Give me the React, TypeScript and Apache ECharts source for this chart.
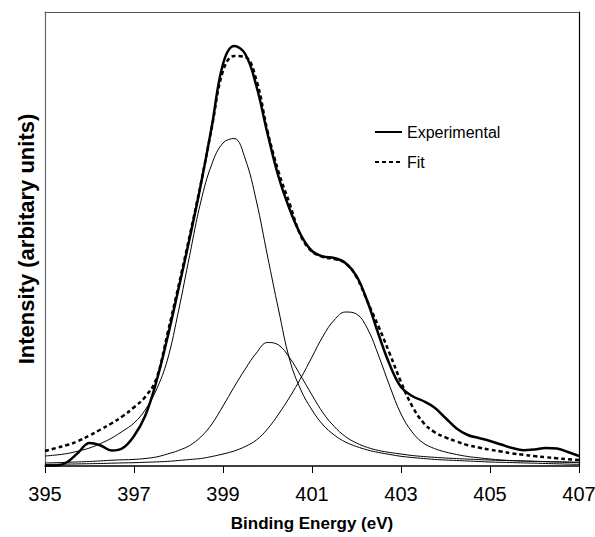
import React, { useEffect, useRef } from "react";
import * as echarts from "echarts";

const energy = [
  395, 395.25, 395.5, 395.75, 396, 396.25, 396.5, 396.75, 397, 397.25, 397.5, 397.75,
  398, 398.25, 398.5, 398.75, 399, 399.25, 399.5, 399.75, 400, 400.25, 400.5, 400.75,
  401, 401.25, 401.5, 401.75, 402, 402.25, 402.5, 402.75, 403, 403.25, 403.5, 403.75,
  404, 404.25, 404.5, 404.75, 405, 405.25, 405.5, 405.75, 406, 406.25, 406.5, 406.75, 407,
];

const experimental = [
  0.5, 0.5, 4, 13.5, 23, 20.5, 15.5, 18, 30, 50, 84, 128,
  177, 227.5, 281, 340, 402, 420, 412, 380, 332.5, 289, 256.5, 231,
  215, 209.5, 208, 203, 190, 164, 131, 101, 79, 70, 65, 58.5,
  48, 37.5, 31, 28, 25, 21.5, 18, 15.8, 16.5, 18, 17.5, 14, 10,
];

const fit = [
  15, 18, 21, 25, 30.5, 36.5, 42.7, 50, 58.7, 69, 87, 132,
  180, 230, 282, 339, 395, 410, 409, 386, 335, 294, 262, 230,
  214.5, 209, 207, 203, 189, 164, 139, 112, 84, 60, 43.5, 34,
  28.7, 24.5, 20.8, 18.4, 16.3, 14.5, 12.6, 11.2, 9.9, 8.8, 7.7, 6.8, 6,
];

const peak1 = [
  10, 11, 12.5, 15, 18, 22.5, 28, 35, 43, 56, 76, 106,
  155, 210.5, 264, 302, 323, 327.5, 307, 265, 210, 156, 106, 76,
  56, 41, 31, 24, 19.5, 16, 13.5, 11.5, 9.7, 8.5, 7.5, 6.6,
  6, 5.5, 5, 4.5, 4, 3.7, 3.4, 3.1, 2.8, 2.5, 2.2, 1.9, 1.6,
];

const peak2 = [
  3, 3.3, 3.7, 4.1, 4.5, 5.1, 5.8, 6.2, 6.6, 7.5, 9, 12,
  15.5, 20.5, 29, 42, 60, 79, 97, 113, 123.5, 121, 108, 90,
  71, 53, 39.5, 29.5, 23, 18.5, 15.5, 13.5, 12, 10.5, 9.5, 8.7,
  8, 7.4, 6.9, 6.4, 6, 5.6, 5.3, 5, 4.7, 4.4, 4.2, 4, 3.8,
];

const peak3 = [
  1.5, 1.7, 1.9, 2.1, 2.3, 2.5, 2.8, 3.1, 3.3, 3.7, 4.1, 4.6,
  5.5, 6.5, 7.5, 9.5, 12, 15, 19.5, 26, 37, 52, 69, 88,
  109, 130, 146, 154, 152, 137, 110, 79.5, 52, 34, 23, 17.5,
  14, 11.5, 9.5, 8.2, 7, 6, 5.4, 5, 4.6, 4.3, 4, 3.7, 3.3,
];

const xTicks = [395, 397, 399, 401, 403, 405, 407];
const legendNames = ["Experimental", "Fit"];
const xTitle = "Binding Energy (eV)";
const yTitle = "Intensity (arbitary units)";

const FONT = "'Liberation Sans', Arial, sans-serif";

const pairs = (ys: number[]) => energy.map((x, i) => [x, ys[i]]);

export default function App() {
  const ref = useRef<HTMLDivElement>(null);
  useEffect(() => {
    if (!ref.current) return;
    const chart = echarts.init(ref.current, undefined, { renderer: "svg" });
    const thin = (name: string, ys: number[]) => ({
      name,
      type: "line",
      data: pairs(ys),
      smooth: 0.4,
      symbol: "none",
      lineStyle: { color: "#000", width: 1 },
      z: 2,
    });
    chart.setOption({
      animation: false,
      backgroundColor: "#fff",
      grid: { left: 45, right: 16, top: 12, bottom: 71, outerBoundsMode: "none", containLabel: false },
      legend: {
        data: legendNames,
        orient: "vertical",
        left: 369,
        top: 119,
        itemWidth: 27,
        itemHeight: 14,
        itemGap: 14,
        itemStyle: { opacity: 0 },
        textStyle: { fontSize: 16, fontFamily: FONT, color: "#000" },
      },
      xAxis: [
        {
          type: "value",
          min: 395,
          max: 407,
          interval: 2,
          axisLine: { show: true, onZero: false, lineStyle: { color: "#000", width: 1.5 } },
          axisTick: { show: true, length: 7, lineStyle: { color: "#000" } },
          axisLabel: {
            fontSize: 20,
            fontFamily: FONT,
            color: "#000",
            margin: 18,
            customValues: xTicks,
          },
          splitLine: { show: false },
          name: xTitle,
          nameLocation: "middle",
          nameGap: 49,
          nameTextStyle: { fontSize: 17, fontWeight: "bold", fontFamily: FONT, color: "#000" },
        },
        {
          type: "value",
          position: "top",
          min: 395,
          max: 407,
          axisLine: { show: true, onZero: false, lineStyle: { color: "#555", width: 1.2 } },
          axisTick: { show: false },
          axisLabel: { show: false },
          splitLine: { show: false },
        },
      ],
      yAxis: [
        {
          type: "value",
          min: 0,
          max: 454,
          axisLine: { show: true, onZero: false, lineStyle: { color: "#666", width: 1.2 } },
          axisTick: { show: false },
          axisLabel: { show: false },
          splitLine: { show: false },
          name: yTitle,
          nameLocation: "middle",
          nameGap: 8,
          nameRotate: 90,
          nameTextStyle: { fontSize: 22, fontWeight: "bold", fontFamily: FONT, color: "#000" },
        },
        {
          type: "value",
          position: "right",
          min: 0,
          max: 454,
          axisLine: { show: true, onZero: false, lineStyle: { color: "#000", width: 1.2 } },
          axisTick: { show: false },
          axisLabel: { show: false },
          splitLine: { show: false },
        },
      ],
      series: [
        thin("Peak 1", peak1),
        thin("Peak 2", peak2),
        thin("Peak 3", peak3),
        {
          name: "Fit",
          type: "line",
          data: pairs(fit),
          smooth: 0.4,
          symbol: "none",
          lineStyle: { color: "#000", width: 2.5, type: [4, 3] },
          itemStyle: { color: "#000" },
          z: 3,
        },
        {
          name: "Experimental",
          type: "line",
          data: pairs(experimental),
          smooth: 0.4,
          symbol: "none",
          lineStyle: { color: "#000", width: 2.5 },
          itemStyle: { color: "#000" },
          z: 4,
        },
      ],
    });
    return () => chart.dispose();
  }, []);
  return (
    <div
      ref={ref}
      style={{ position: "fixed", left: 0, top: 0, width: 595, height: 537, background: "#fff" }}
    />
  );
}
